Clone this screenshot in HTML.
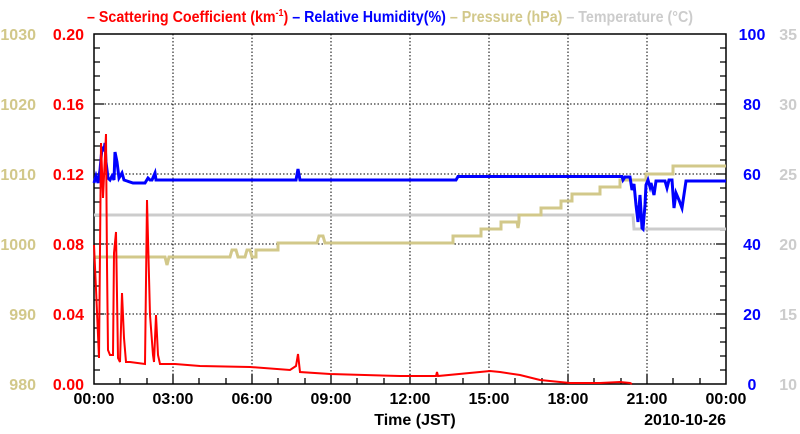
<!DOCTYPE html>
<html><head><style>body{margin:0;background:#fff}svg{display:block}text{font-family:"Liberation Sans",sans-serif;font-weight:bold}</style></head><body>
<svg width="800" height="434" viewBox="0 0 800 434">
<g font-size="16">
<text x="87" y="22" textLength="606" lengthAdjust="spacingAndGlyphs"><tspan fill="#f00">– Scattering Coefficient (km<tspan font-size="10" dy="-6">-1</tspan><tspan dy="6">) </tspan></tspan><tspan fill="#00f">– Relative Humidity(%) </tspan><tspan fill="#d2c88a">– Pressure (hPa) </tspan><tspan fill="#ccc">– Temperature (°C)</tspan></text>
</g>
<g stroke="#000" stroke-dasharray="1.5,2" stroke-width="1">
<path d="M173 34V384M252 34V384M331 34V384M410 34V384M489 34V384M568 34V384M647 34V384M94 104H726M94 174H726M94 244H726M94 314H726"/>
</g>
<g stroke="#000" stroke-width="1.3">
<path d="M94 104h10M94 174h10M94 244h10M94 314h10M726 104h-10M726 174h-10M726 244h-10M726 314h-10"/>
<path d="M94 48h6M94 62h6M94 76h6M94 90h6M94 118h6M94 132h6M94 146h6M94 160h6M94 188h6M94 202h6M94 216h6M94 230h6M94 258h6M94 272h6M94 286h6M94 300h6M94 328h6M94 342h6M94 356h6M94 370h6M726 48h-6M726 62h-6M726 76h-6M726 90h-6M726 118h-6M726 132h-6M726 146h-6M726 160h-6M726 188h-6M726 202h-6M726 216h-6M726 230h-6M726 258h-6M726 272h-6M726 286h-6M726 300h-6M726 328h-6M726 342h-6M726 356h-6M726 370h-6"/>
<path d="M173 384v-10M252 384v-10M331 384v-10M410 384v-10M489 384v-10M568 384v-10M647 384v-10M120 384v-6M147 384v-6M199 384v-6M226 384v-6M278 384v-6M305 384v-6M357 384v-6M384 384v-6M436 384v-6M463 384v-6M515 384v-6M542 384v-6M594 384v-6M621 384v-6M673 384v-6M700 384v-6"/>
</g>
<rect x="94" y="34" width="632" height="350" fill="none" stroke="#000" stroke-width="1.5"/>
<path d="M94 215H633L634 229H726" fill="none" stroke="#ccc" stroke-width="3"/>
<path d="M94 257H165L167 265L169 257H230L232 250H236L238 257H245L247 250H250L252 257H256V250H278V243H317L319 236H323L325 243H453V236H481V229H501V222H517L518 228L519 222V215H541V208H561V201H572V194H600V187H620V180H646V174H673V166H726" fill="none" stroke="#d2c88a" stroke-width="3"/>
<path d="M94 183L96 176L98 183L100 170L102 148L104 150L105 143L106 162L108 178L110 180L112 176L114 180L115 152L117 162L119 178L122 173L124 180L127 181L133 183L145 183L148 178L150 180L152 180L155 173L156 180H296L298 169L300 180H456L458 176.5H622L623 180L625 177H630L632 190L634 184L636 205L638 222L640 195L642 228L643 229L645 205L646 185L648 180L650 187L651 183L654 195L656 181H665L667 188L669 180H672L674 208L676 193L679 200L682 208L686 181H726" fill="none" stroke="#00f" stroke-width="3"/>
<path d="M94 245L96 289L99 358L101 143L103 198L106 134L107 265L108 350L110 355L113 355L114 253L116 232L118 358L120 362L122 293L124 338L126 362L130 362L145 364L147 200L150 315L153 355L154 362L156 315L158 355L160 364L175 364L200 366L250 367L290 370L296 366L298 354L300 372L330 374L400 376L436 376L437 372L438 376L480 372L490 371L500 372L520 375L540 380L570 383L600 383L620 382L630 383L632 384" fill="none" stroke="#f00" stroke-width="2"/>
<g font-size="16" fill="#f00" text-anchor="end">
<text x="84" y="40">0.20</text><text x="84" y="110">0.16</text><text x="84" y="180">0.12</text><text x="84" y="250">0.08</text><text x="84" y="320">0.04</text><text x="84" y="390">0.00</text></g>
<g font-size="16" fill="#d2c88a" text-anchor="end" style="font-weight:normal">
<text x="36" y="40">1030</text><text x="36" y="110">1020</text><text x="36" y="180">1010</text><text x="36" y="250">1000</text><text x="36" y="320">990</text><text x="36" y="390">980</text></g>
<g font-size="16" fill="#00f" text-anchor="middle">
<text x="752" y="40">100</text><text x="752" y="110">80</text><text x="752" y="180">60</text><text x="752" y="250">40</text><text x="752" y="320">20</text><text x="752" y="390">0</text></g>
<g font-size="16" fill="#ccc" text-anchor="end" style="font-weight:normal">
<text x="797" y="40">35</text><text x="797" y="110">30</text><text x="797" y="180">25</text><text x="797" y="250">20</text><text x="797" y="320">15</text><text x="797" y="390">10</text></g>
<g font-size="16" fill="#000" text-anchor="middle">
<text x="94" y="404">00:00</text><text x="173" y="404">03:00</text><text x="252" y="404">06:00</text><text x="331" y="404">09:00</text><text x="410" y="404">12:00</text><text x="489" y="404">15:00</text><text x="568" y="404">18:00</text><text x="647" y="404">21:00</text><text x="726" y="404">00:00</text>
<text x="415" y="425">Time (JST)</text><text x="726" y="425" text-anchor="end">2010-10-26</text></g>
</svg>
</body></html>
